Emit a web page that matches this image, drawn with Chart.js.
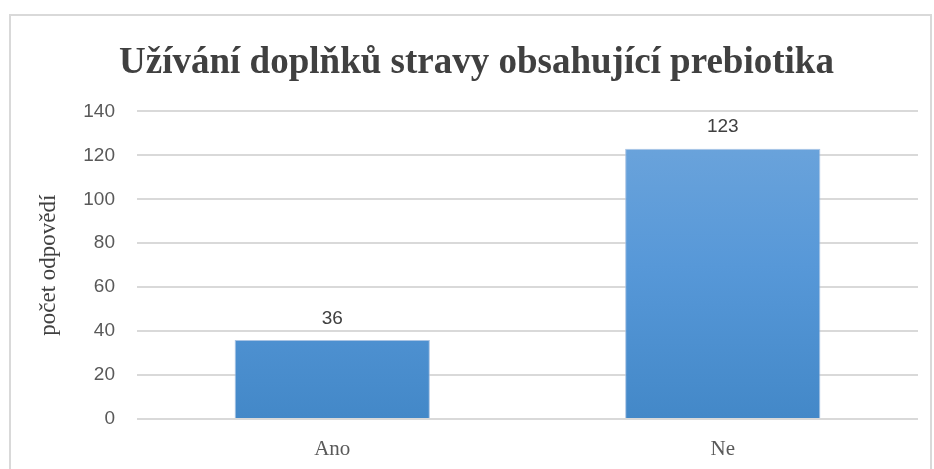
<!DOCTYPE html>
<html>
<head>
<meta charset="utf-8">
<script src="https://cdn.jsdelivr.net/npm/chart.js@4"></script>
<style>
  body { margin: 0; background: #fff; }
  #wrap { width: 934px; height: 469px; }
</style>
</head>
<body>
<div id="wrap"><canvas id="chart" width="934" height="469"></canvas></div>
<script>
// data
const categories = ['Ano', 'Ne'];
const counts = [36, 123];
const yTicks = [0, 20, 40, 60, 80, 100, 120, 140];

const chartTitle = 'Užívání doplňků stravy obsahující prebiotika';
const yTitle = 'počet odpovědí';

// light grey frame around the chart, like the office chart border
const framePlugin = {
    id: 'frame',
    beforeDraw(chart) {
        const ctx = chart.ctx;
        ctx.save();
        ctx.strokeStyle = '#d9d9d9';
        ctx.lineWidth = 2;
        ctx.strokeRect(10, 15, 921, 470);
        ctx.restore();
    }
};

// value labels above the bars
const valueLabels = {
    id: 'valueLabels',
    afterDatasetsDraw(chart) {
        const ctx = chart.ctx;
        const meta = chart.getDatasetMeta(0);
        ctx.save();
        ctx.font = '19px "Liberation Sans", sans-serif';
        ctx.fillStyle = '#404040';
        ctx.textAlign = 'center';
        ctx.textBaseline = 'bottom';
        meta.data.forEach((bar, i) => {
            ctx.fillText(counts[i], bar.x, bar.y - 12);
        });
        ctx.restore();
    }
};

function barGradient(context) {
    const area = context.chart.chartArea;
    if (!area) return '#5b9bd5';
    const el = context.element;
    const top = el && el.y !== undefined ? el.y : area.top;
    const g = context.chart.ctx.createLinearGradient(0, top, 0, area.bottom);
    g.addColorStop(0, '#6fa6dc');
    g.addColorStop(0.5, '#5798d8');
    g.addColorStop(1, '#4388c8');
    return g;
}

const ctx = document.getElementById('chart').getContext('2d');
new Chart(ctx, {
    type: 'bar',
    data: {
        labels: categories,
        datasets: [{
            data: counts,
            backgroundColor: barGradient,
            borderColor: 'rgba(160,190,225,0.9)',
            borderWidth: 1,
            categoryPercentage: 1,
            barPercentage: 0.5
        }]
    },
    options: {
        responsive: false,
        animation: false,
        layout: { padding: { left: 35, right: 16, top: 0, bottom: 0 } },
        plugins: {
            legend: { display: false },
            tooltip: { enabled: false },
            title: {
                display: true,
                text: chartTitle,
                color: '#404040',
                font: { family: '"Liberation Serif", "Times New Roman", serif', size: 37, weight: 'bold' },
                padding: { top: 41, bottom: 26 }
            }
        },
        scales: {
            x: {
                grid: { display: false },
                border: { display: false },
                ticks: {
                    color: '#595959',
                    padding: 10,
                    font: { family: '"Liberation Serif", serif', size: 21 }
                },
                afterFit(scale) { scale.height = 50; }
            },
            y: {
                min: 0,
                max: 140,
                afterBuildTicks(scale) {
                    scale.ticks = yTicks.map(v => ({ value: v }));
                },
                grid: { color: '#d9d9d9', lineWidth: 2, drawTicks: false },
                border: { display: false },
                ticks: {
                    color: '#595959',
                    padding: 22,
                    font: { family: '"Liberation Sans", sans-serif', size: 19 }
                },
                title: {
                    display: true,
                    text: yTitle,
                    color: '#404040',
                    font: { family: '"Liberation Serif", serif', size: 23 },
                    padding: { top: 0, bottom: 0 }
                },
                afterFit(scale) { scale.width = 102; }
            }
        }
    },
    plugins: [framePlugin, valueLabels]
});
</script>
</body>
</html>
